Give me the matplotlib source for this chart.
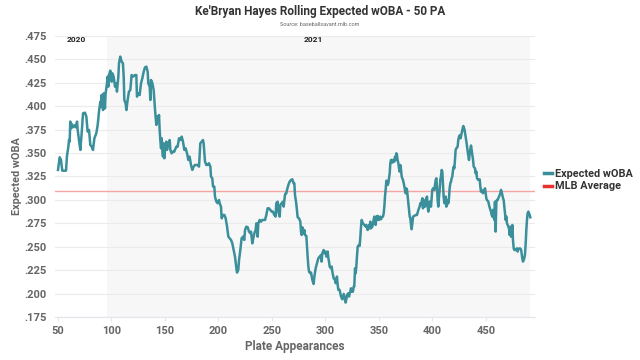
import matplotlib
matplotlib.use("Agg")
import matplotlib.pyplot as plt
from matplotlib.lines import Line2D
from matplotlib.ticker import FuncFormatter, MultipleLocator

plt.rcParams['font.family'] = ['Roboto', 'DejaVu Sans']

title = "Ke'Bryan Hayes Rolling Expected wOBA - 50 PA"
source = "Source: baseballsavant.mlb.com"
series_name = "Expected wOBA"
avg_name = "MLB Average"
mlb_average = 0.310
season_labels = ["2020", "2021"]
season_2021_start = 96
season_label_pa = [67.5, 289]

pa = [50.0, 51.6, 52.8, 54.0, 57.5, 58.4, 59.7, 60.3, 60.9, 61.5, 62.2, 62.8, 64.0, 65.3, 66.5, 67.8, 68.4, 69.6,
      70.9, 72.1, 73.4, 75.2, 76.5, 77.7, 79.0, 80.2, 81.5, 82.7, 84.0, 85.8, 87.1, 88.3, 89.6, 90.2, 90.8, 92.1,
      92.7, 93.9, 94.5, 95.8, 96.4, 97.0, 97.7, 98.9, 100.2, 100.8, 102.0, 103.3, 104.5, 105.1, 106.4, 107.0,
      108.2, 109.5, 110.7, 111.4, 112.0, 113.2, 113.9, 115.1, 116.3, 117.6, 118.8, 120.1, 121.9,
      123.2, 123.8, 125.1, 126.3, 127.6, 128.8, 130.1, 131.3, 132.6, 133.8, 134.4, 135.7, 136.3, 136.9, 138.2,
      139.4, 140.7, 141.9, 142.5, 143.8, 144.4, 145.0, 145.6, 146.3, 146.9, 147.5, 148.1, 148.7, 149.4, 150.0,
      150.6, 151.2, 151.9, 152.5, 153.1, 154.4, 155.0, 156.2, 157.5, 158.7, 159.3, 160.6, 161.8, 163.1, 164.3,
      165.6, 166.8, 168.1, 169.3, 170.6, 171.8, 173.0, 174.3, 175.5, 176.8, 178.0, 179.3, 180.5, 181.8, 183.0,
      184.3, 185.5, 186.1, 187.4, 188.6, 189.9, 191.1, 192.4, 193.0, 194.2, 194.9, 196.1,
      196.7, 198.0, 199.2, 200.5, 201.1, 202.3, 203.0, 204.2, 205.5, 206.7, 208.0, 209.2, 210.4, 211.7, 212.9,
      214.2, 215.4, 216.7, 217.3, 218.5, 219.2, 220.4, 221.6, 222.9, 224.1, 224.8, 226.0, 227.3, 228.5, 229.8,
      230.4, 231.6, 232.2, 233.5, 234.7, 235.4, 236.6, 237.2, 238.5, 239.7, 241.0, 242.2, 243.5, 244.7, 245.9,
      247.2, 248.4, 249.7, 250.9, 252.2, 253.4, 254.0, 255.3, 255.9, 257.2, 257.8, 259.0, 260.3, 260.9, 262.1,
      262.8, 263.4, 264.0, 265.3, 266.5, 267.8, 269.0, 270.2, 270.9, 271.5, 272.7,
      274.0, 275.2, 276.5, 277.1, 277.7, 278.4, 279.6, 280.2, 280.8, 282.1, 282.7, 283.3, 284.0, 284.6, 285.8,
      286.5, 287.1, 287.7, 288.9, 289.6, 290.8, 292.1, 293.3, 294.6, 295.8, 296.4, 297.0, 298.3, 298.9, 300.2,
      300.8, 301.4, 302.0, 302.7, 303.3, 303.9, 305.1, 305.8, 306.4, 307.0, 307.6, 308.9, 309.5, 310.7, 311.4,
      312.0, 313.2, 313.9, 314.5, 315.7, 316.4, 317.0, 318.2, 318.8, 319.5, 320.1, 321.3, 322.0, 322.6, 323.2,
      323.8, 324.5, 325.1, 325.7, 326.3, 326.9, 327.6, 328.2, 328.8, 329.4, 330.1, 331.3, 331.9, 332.6, 333.2,
      333.8, 335.0, 336.3, 337.5, 338.2, 339.4, 340.0, 340.7, 341.3, 341.9, 342.5, 343.8, 345.0, 345.6,
      346.3, 346.9, 347.5, 348.1, 348.8, 350.0, 351.2, 351.9, 352.5, 353.7, 354.4, 355.0, 355.6, 356.2, 356.9,
      357.5, 358.1, 358.7, 360.0, 360.6, 361.2, 361.8, 362.5, 363.1, 363.7, 364.3, 365.0, 365.6, 366.2, 366.8,
      367.4, 368.1, 368.7, 369.3, 369.9, 370.6, 371.2, 372.4, 373.0, 373.7, 374.3, 374.9, 375.5, 376.2, 376.8,
      377.4, 378.0, 378.7, 379.3, 379.9, 380.5, 381.2, 381.8, 383.0, 384.3, 385.5, 386.8, 388.0, 388.6, 389.2,
      389.9, 390.5, 391.1, 391.7, 392.4, 393.0, 393.6, 394.2, 394.9, 395.5, 396.1, 396.7, 397.3, 398.0, 398.6,
      399.2, 399.8, 400.5, 401.1, 401.7, 402.3, 403.0, 403.6, 404.2, 404.8, 405.4, 406.1, 406.7, 407.3, 407.9,
      408.6, 409.2, 409.8, 410.4, 411.1, 411.7, 412.3, 412.9, 413.5, 414.2, 414.8, 415.4, 416.0, 416.7, 417.3,
      417.9, 418.5, 419.2, 419.8, 420.4, 421.0, 421.6, 422.3, 423.5, 424.1, 424.8, 425.7,
      426.3, 427.2, 428.2, 428.8, 430.0, 431.0, 431.9, 432.9, 434.1, 435.0, 436.0, 436.6, 437.9, 438.5, 439.7,
      440.3, 441.0, 441.6, 442.8, 444.1, 444.7, 445.3, 445.9, 447.2, 448.4, 449.1, 449.7, 450.3, 450.9, 452.2,
      452.8, 454.1, 454.7, 455.3, 455.9, 456.5, 457.2, 457.8, 458.4, 459.0, 459.7, 460.3, 460.9, 462.2, 463.4,
      464.0, 464.6, 465.3, 465.9, 466.5, 467.1, 467.8, 468.4, 469.0, 469.6, 470.2, 470.9, 471.5, 472.1, 472.7,
      473.4, 474.0, 474.6, 475.2, 475.9, 476.5, 477.7, 479.0, 479.6, 480.2, 481.5, 482.7, 483.3, 483.9, 484.6,
      485.2, 485.8, 486.4, 487.1, 487.7, 488.3, 488.9, 489.6, 490.2, 490.8, 491.4]

xwoba = [0.332, 0.3455, 0.3426, 0.3312, 0.3312, 0.3469, 0.3568, 0.3639, 0.3621, 0.3835, 0.3763, 0.381, 0.3774,
         0.3795, 0.3774, 0.3835, 0.3746, 0.3639, 0.3533, 0.371, 0.3923, 0.393, 0.3888, 0.3728, 0.3746, 0.3586,
         0.3568, 0.3533, 0.3657, 0.371, 0.3799, 0.3941, 0.4047, 0.3994, 0.4118, 0.3958, 0.4136, 0.3976, 0.4136,
         0.4243, 0.4314, 0.4207, 0.4331, 0.4378, 0.426, 0.4349, 0.4314, 0.4207, 0.4243, 0.4154, 0.4314, 0.4456,
         0.4527, 0.4474, 0.4456, 0.4314, 0.4065, 0.4029, 0.3958, 0.4065, 0.4154, 0.4172, 0.4331, 0.4314, 0.4331,
         0.4331, 0.4101, 0.4136, 0.4118, 0.4243, 0.4296, 0.4367, 0.4413, 0.442, 0.4367, 0.4243, 0.4207, 0.4065,
         0.4278, 0.4243, 0.4172, 0.3958, 0.3799, 0.3888, 0.3852, 0.3905, 0.3746, 0.3639, 0.355, 0.3657, 0.3533,
         0.3462, 0.3604, 0.3444, 0.3533, 0.3568, 0.3621, 0.3533, 0.3568, 0.3604, 0.3639, 0.3533, 0.3497, 0.3515,
         0.3515, 0.3533, 0.3568, 0.3568, 0.3657, 0.3639, 0.3675, 0.3621, 0.3533, 0.355, 0.3497, 0.3426, 0.3462,
         0.3373, 0.332, 0.3355, 0.3373, 0.3373, 0.3373, 0.3355, 0.3604, 0.3621, 0.3639, 0.3604, 0.3408, 0.3373,
         0.3373, 0.3391, 0.3355, 0.3249, 0.3231, 0.3142, 0.3142,
         0.3036, 0.2982, 0.2965, 0.300, 0.2965, 0.2929, 0.2805, 0.284, 0.284, 0.2805, 0.2716, 0.2609, 0.2592,
         0.2574, 0.2538, 0.2467, 0.2397, 0.2272, 0.2226, 0.2255, 0.2361, 0.2467, 0.2592, 0.2609, 0.2574, 0.268,
         0.2716, 0.2709, 0.2663, 0.2645, 0.2663, 0.2538, 0.2574, 0.2645, 0.268, 0.2751, 0.2609, 0.2751, 0.2787,
         0.2769, 0.2787, 0.2787, 0.2787, 0.284, 0.2911, 0.2911, 0.2894, 0.2876, 0.2876, 0.284, 0.2823, 0.2965,
         0.2982, 0.2876, 0.2823, 0.2947, 0.2965, 0.2982, 0.2929, 0.3053, 0.3071, 0.3071, 0.3107, 0.316, 0.3195,
         0.3213, 0.322, 0.3177, 0.3177, 0.3053, 0.2960,
         0.2815, 0.2805, 0.2769, 0.2663, 0.2627, 0.2709, 0.2645, 0.268, 0.2627, 0.2617, 0.2503, 0.2397, 0.229,
         0.2237, 0.2219, 0.2226, 0.2184, 0.2148, 0.2105, 0.2184, 0.2272, 0.2326, 0.2379, 0.2397, 0.2414, 0.2343,
         0.2432, 0.2467, 0.2432, 0.245, 0.2397, 0.2414, 0.245, 0.2379, 0.2343, 0.229, 0.2272, 0.229, 0.2237,
         0.2201, 0.2166, 0.2148, 0.2113, 0.2184, 0.2095, 0.2042, 0.2042, 0.2006, 0.1971, 0.1942, 0.1971, 0.1999,
         0.1935, 0.1907, 0.1942, 0.1988, 0.2006, 0.1971, 0.2006, 0.2024, 0.2059, 0.2024, 0.2042, 0.2024, 0.2077,
         0.2077, 0.2272, 0.2219, 0.229, 0.2397, 0.2503, 0.2521, 0.251, 0.2609, 0.2716, 0.2787, 0.2751, 0.2734,
         0.2716, 0.2734, 0.268, 0.2698, 0.2734, 0.2698, 0.2769, 0.2698, 0.2716, 0.2787, 0.2823,
         0.2805, 0.2734, 0.2823, 0.2787, 0.283, 0.2787, 0.2823, 0.2794, 0.2816, 0.2823, 0.2858, 0.2929, 0.3036,
         0.3107, 0.3206, 0.3195, 0.316, 0.3178, 0.3284, 0.3391, 0.3426, 0.3426, 0.3398, 0.3426, 0.3426, 0.3408,
         0.3462, 0.3426, 0.3497, 0.3479, 0.3426, 0.3391, 0.3337, 0.3302, 0.3373, 0.332, 0.3249, 0.3213, 0.3185,
         0.3142, 0.3107, 0.3071, 0.3124, 0.3107, 0.3036, 0.2965, 0.2894, 0.2823, 0.2805, 0.2734, 0.2688, 0.2752,
         0.2823, 0.283, 0.284, 0.284, 0.2894, 0.2929, 0.2965, 0.2947, 0.2982, 0.3018, 0.2911, 0.3, 0.2965, 0.2929,
         0.2982, 0.3018, 0.3036, 0.2929, 0.2876, 0.2929, 0.2982, 0.2982, 0.2929, 0.3018, 0.3107, 0.3124, 0.3124,
         0.3107, 0.316, 0.3213, 0.3231, 0.3142, 0.3, 0.2929, 0.3036, 0.3107, 0.3213, 0.3249, 0.332, 0.3302,
         0.3178, 0.3036, 0.2965, 0.2982, 0.3036, 0.2929, 0.2947, 0.3, 0.2965, 0.3018, 0.3124, 0.3178, 0.3195,
         0.3231, 0.3249, 0.332, 0.3355, 0.3337, 0.3426, 0.3533, 0.355, 0.3568, 0.3639, 0.3675, 0.3692,
         0.3657, 0.371, 0.3763, 0.3788, 0.3746, 0.3675, 0.3604, 0.3515, 0.3426, 0.3515, 0.358, 0.3533, 0.3426,
         0.3355, 0.3337, 0.3284, 0.3302, 0.3231, 0.3213, 0.322, 0.3142, 0.3089, 0.3107, 0.3071, 0.3107, 0.3124,
         0.3071, 0.3018, 0.3, 0.2982, 0.2947, 0.2894, 0.2876, 0.284, 0.2823, 0.2894, 0.2823, 0.2787, 0.2982,
         0.2663, 0.2982, 0.3, 0.3, 0.3036, 0.3071, 0.3107, 0.3089, 0.3053, 0.3018, 0.3, 0.2929, 0.284, 0.2787,
         0.2823, 0.2752, 0.2734, 0.2716, 0.2698, 0.2627, 0.2716, 0.2609, 0.2609, 0.2734, 0.2574, 0.2485, 0.2467,
         0.2467, 0.2485, 0.245, 0.2475, 0.2485, 0.2475, 0.2432, 0.2379, 0.2343, 0.2361, 0.2379, 0.2414, 0.2539,
         0.2681, 0.2787, 0.2858, 0.2876, 0.2858, 0.284, 0.2815]

LINE = '#3a8f9a'
GRAY_TXT = '#666666'

fig = plt.figure(figsize=(6.4, 3.6), dpi=100)
ax = fig.add_axes([55 / 640, 1 - 317.3 / 360, 480 / 640, 281.6 / 360])

ax.axvspan(season_2021_start, pa[-1], color='#f7f7f7', zorder=0, lw=0)
ax.axhline(mlb_average, color='#f7a4a4', lw=1.0, zorder=1.5)
ax.plot(pa, xwoba, color=LINE, lw=1.8, zorder=3, solid_joinstyle='round')

ax.set_xlim(47.2, 495.8)
ax.set_ylim(0.175, 0.475)
ax.yaxis.set_major_locator(MultipleLocator(0.025))
ax.yaxis.set_major_formatter(FuncFormatter(lambda v, p: f"{v:.3f}"[1:]))
ax.set_xticks([50, 100, 150, 200, 250, 300, 350, 400, 450])

ax.grid(axis='y', color='#ebebeb', lw=0.8, zorder=0.5)
ax.set_axisbelow(True)
for s in ['top', 'right', 'left']:
    ax.spines[s].set_visible(False)
ax.spines['bottom'].set_color('#e3e6ec')
ax.spines['bottom'].set_linewidth(0.9)

ax.tick_params(axis='y', length=0, pad=6, labelsize=8, labelcolor=GRAY_TXT)
ax.tick_params(axis='x', length=3, width=0.8, color='#e3e6ec', pad=3, labelsize=8, labelcolor=GRAY_TXT)
for lbl in ax.get_xticklabels() + ax.get_yticklabels():
    lbl.set_fontweight('bold')

ax.set_xlabel("Plate Appearances", fontsize=8.5, fontweight='bold', color=GRAY_TXT, labelpad=3)
ax.set_ylabel("Expected wOBA", fontsize=7.8, fontweight='bold', color=GRAY_TXT, labelpad=1.5)

for lab, xpos in zip(season_labels, season_label_pa):
    ax.text(xpos, 0.4705, lab, ha='center', va='center', fontsize=6, fontweight='bold', color='#222222')

fig.text(0.5, 1 - 12 / 360, title, ha='center', va='center', fontsize=8.5, fontweight='bold', color='#333333')
fig.text(0.5, 1 - 24 / 360, source, ha='center', va='center', fontsize=4, color='#666666')

handles = [Line2D([0], [0], color=LINE, lw=2.5), Line2D([0], [0], color='#e8302f', lw=2.5)]
fig.legend(handles, [series_name, avg_name], loc='center left',
           bbox_to_anchor=(544 / 640, 1 - 180 / 360), frameon=False, handlelength=0.7,
           handletextpad=0.35, labelspacing=0.25, borderpad=0, borderaxespad=0,
           prop={'weight': 'bold', 'size': 7.8}, labelcolor='#333333')

fig.savefig("out.png", dpi=100)
